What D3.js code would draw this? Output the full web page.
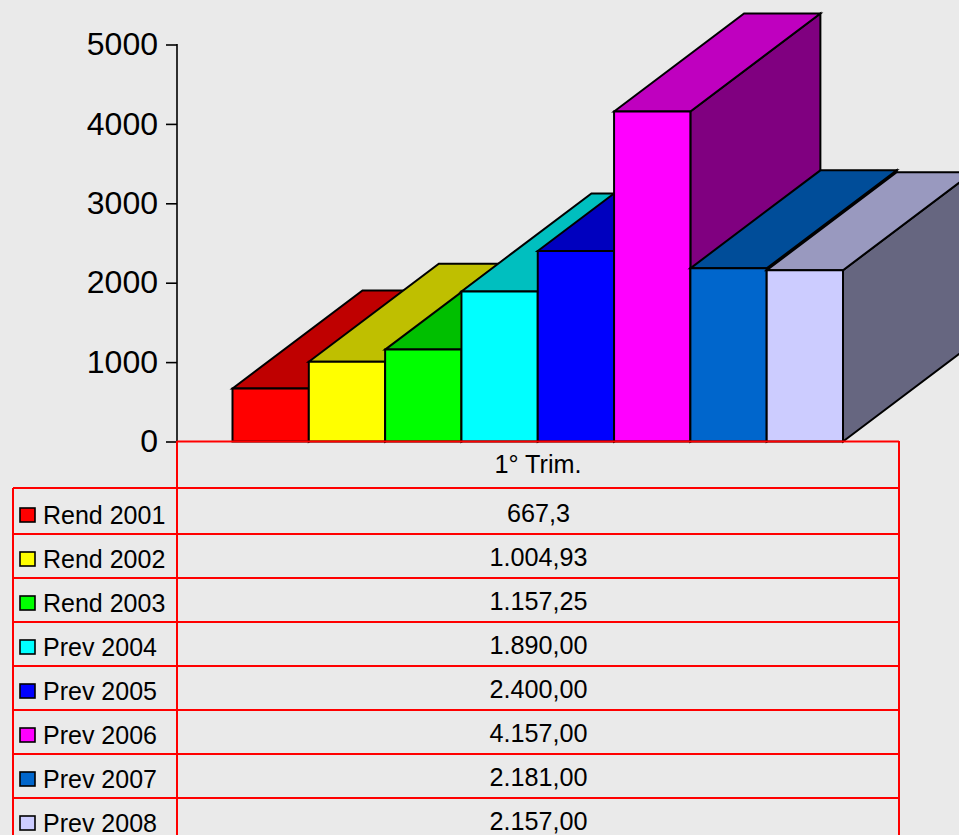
<!DOCTYPE html>
<html><head><meta charset="utf-8">
<script src="https://cdn.jsdelivr.net/npm/d3@7"></script>
<style>html,body{margin:0;padding:0;background:#eaeaea;overflow:hidden}svg{display:block}text{font-family:"Liberation Sans",Arial,sans-serif;fill:#000}</style>
</head><body><div id="c"></div>
<script>
const categories=["Rend 2001","Rend 2002","Rend 2003","Prev 2004","Prev 2005","Prev 2006","Prev 2007","Prev 2008"];
const values=[667.3,1004.93,1157.25,1890,2400,4157,2181,2157];
const valueLabels=["667,3","1.004,93","1.157,25","1.890,00","2.400,00","4.157,00","2.181,00","2.157,00"];
const colors=["#ff0000","#ffff00","#00ff00","#00ffff","#0000ff","#ff00ff","#0066cc","#ccccff"];
const yTicks=[0,1000,2000,3000,4000,5000];
const columnLabel="1° Trim.";

const W=959,H=835,depthX=130,depthY=-98,red="#ff0000";
const svg=d3.select("#c").append("svg").attr("width",W).attr("height",H);
svg.append("rect").attr("width",W).attr("height",H).attr("fill","#eaeaea");
const y=d3.scaleLinear().domain([0,5000]).range([441.5,44.5]);
const x=d3.scaleBand().domain(categories).range([232.5,843]);
const row=d3.scaleLinear().domain([0,7]).range([490,798]);

const axis=d3.axisLeft(y).tickValues(yTicks).tickFormat(d3.format("d")).tickSize(11).tickPadding(8);
const gA=svg.append("g").attr("transform","translate(177,0)").call(axis);
gA.selectAll("path.domain").attr("stroke","#000").attr("stroke-width",1.6).attr("d","M0,44V441");
gA.selectAll(".tick line").attr("stroke","#000").attr("stroke-width",1.6);
gA.selectAll(".tick text").attr("font-size",32).attr("font-family",'"Liberation Sans",Arial,sans-serif').attr("fill","#000");

const shade=(c,k)=>{const r=d3.rgb(c);return d3.rgb(r.r*k,r.g*k,r.b*k).formatHex()};
const poly=(g,pts,fill)=>g.append("path").attr("d",d3.line()(pts)+"Z").attr("fill",fill).attr("stroke","#000").attr("stroke-width",2).attr("stroke-linejoin","miter");
categories.forEach((c,i)=>{
  const g=svg.append("g");
  const x0=x(c),x1=x0+x.bandwidth(),y0=y(0),y1=y(values[i]);
  poly(g,[[x1,y0],[x1+depthX,y0+depthY],[x1+depthX,y1+depthY],[x1,y1]],shade(colors[i],0.5));
  poly(g,[[x0,y1],[x0+depthX,y1+depthY],[x1+depthX,y1+depthY],[x1,y1]],shade(colors[i],0.75));
  poly(g,[[x0,y0],[x0,y1],[x1,y1],[x1,y0]],colors[i]);
});

const t=svg.append("g");
const hline=(x0,x1,yy)=>t.append("line").attr("x1",x0).attr("x2",x1).attr("y1",yy).attr("y2",yy).attr("stroke",red).attr("stroke-width",2);
const vline=(xx,y0,y1)=>t.append("line").attr("x1",xx).attr("x2",xx).attr("y1",y0).attr("y2",y1).attr("stroke",red).attr("stroke-width",2);
hline(177,899,441.5);hline(13,899,488);
categories.forEach((c,i)=>{if(i<7)hline(13,899,row(i+1));});
vline(177,441,H);vline(899,441,H);vline(13,488,H);
t.append("text").attr("x",538).attr("y",473).attr("text-anchor","middle").attr("font-size",25.2).text(columnLabel);
categories.forEach((c,i)=>{
  const base=row(i)+34;
  t.append("rect").attr("x",20).attr("y",base-16).attr("width",15).attr("height",14).attr("fill",colors[i]).attr("stroke","#000").attr("stroke-width",1.6);
  t.append("text").attr("x",43).attr("y",base).attr("font-size",25).text(c);
  t.append("text").attr("x",538.5).attr("y",base-2).attr("text-anchor","middle").attr("font-size",25.2).text(valueLabels[i]);
});
</script></body></html>
